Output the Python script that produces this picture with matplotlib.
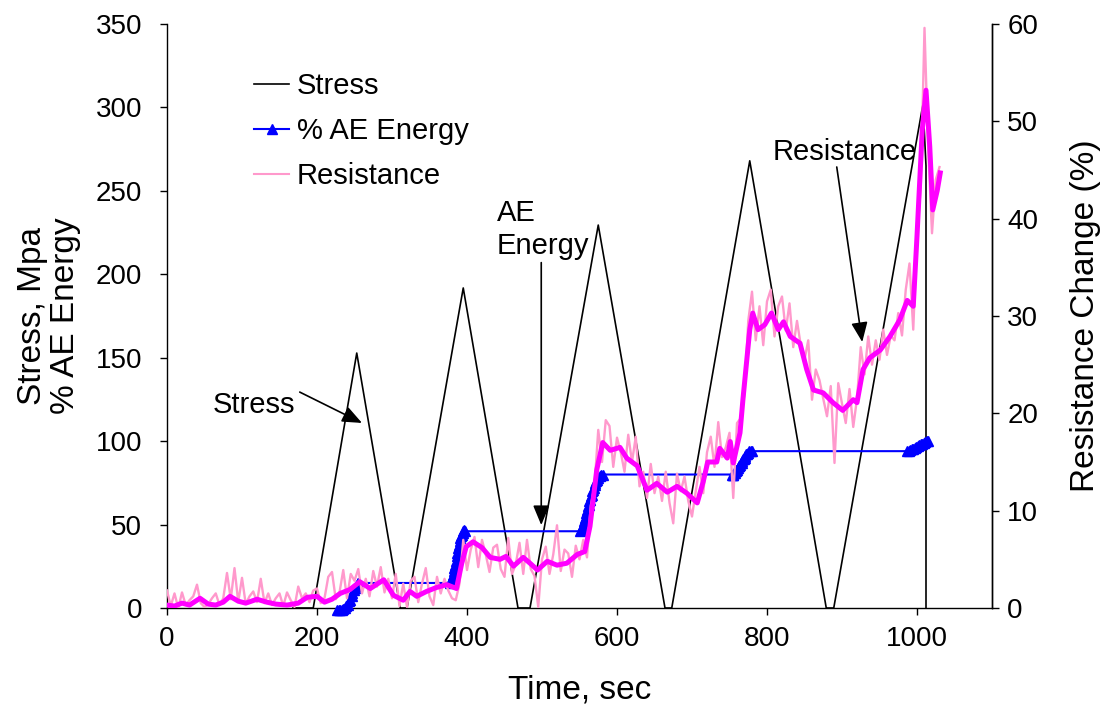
import numpy as np
import matplotlib
matplotlib.use("Agg")
import matplotlib.pyplot as plt
from matplotlib.lines import Line2D

plt.rcParams['font.family'] = ['Liberation Sans', 'DejaVu Sans']

# ---------------- data ----------------
stress_time = [168, 195, 253, 311, 320, 395, 468, 484, 575, 664, 673, 777, 879, 889, 1008, 1012, 1012]
stress_value = [0, 0, 152.8, 0, 0, 191.8, 0, 0, 229.5, 0, 0, 268, 0, 0, 302, 265, 0]

ae_time = [227, 229, 231, 233, 235, 237, 239, 241, 243, 244, 246, 247, 249, 250, 252, 253, 254, 255,
           377, 378, 379, 380, 381, 382, 383, 384, 385, 386, 387, 388, 389, 390, 391, 392, 393, 394,
           395, 396, 397,
           551, 552, 553, 554, 555, 556, 557, 558, 559, 560, 561, 562, 563, 564, 565, 566, 567, 568,
           569, 570, 571, 572, 573, 575, 577, 579, 581,
           753, 754, 755, 756, 757, 758, 759, 760, 761, 762, 763, 764, 765, 766, 767, 768, 769, 770,
           771, 772, 773, 774, 776, 778, 780,
           987, 989, 991, 993, 995, 997, 999, 1001, 1003, 1005, 1007, 1009, 1011, 1013, 1014]
ae_value = [-1, -1, -1, -1, -0.5, 0, 1, 2, 4, 5, 7, 9, 11, 12, 13, 14, 15, 15,
            15, 16, 17, 18, 20, 22, 24, 26, 28, 31, 33, 36, 38, 40, 42, 43, 44, 45,
            46, 47, 46,
            46, 47, 48, 49, 50, 52, 54, 55, 57, 59, 61, 62, 64, 65, 67, 68, 70, 71,
            72, 74, 75, 76, 77, 78, 79, 80, 80,
            80, 80, 80, 81, 81, 82, 83, 83, 84, 85, 85, 86, 87, 87, 88, 89, 89, 90,
            91, 92, 92, 93, 94, 94, 94,
            94, 94, 94.5, 95, 95.5, 96, 96.5, 97, 97.5, 98, 98.5, 99, 99.5, 100, 100]

# raw resistance change (%), sampled every 5 s from 0 to 1030 s
raw_start, raw_step = 0, 5
resistance_raw = [
    1.8, 0.2, 1.5, 0.0, 1.6, 0.3, 0.8, 1.2, 2.4, 0.5,
    0.1, 0.4, 1.0, 1.5, 0.3, 1.0, 3.6, 0.9, 4.1, 0.6,
    3.1, 0.4, 1.2, 1.7, 0.6, 3.0, 0.5, 1.5, 0.3, 1.0,
    1.5, 0.2, 1.6, 0.8, 0.1, 2.2, 1.0, 1.5, 0.6, 1.8,
    2.0, 0.5, 1.0, 3.2, 3.7, 0.9, 1.6, 3.9, 1.0, 3.5,
    2.8, 4.0, 1.5, 3.0, 1.2, 3.8, 2.2, 4.2, 1.6, 3.0,
    1.0, 3.5, 0.2, 2.5, 0.1, 2.8, 3.2, 0.6, 2.5, 4.1,
    1.2, 0.3, 3.2, 1.5, 3.0, 1.8, 1.0, 0.8, 2.5, 7.0,
    3.9, 6.0, 7.3, 4.2, 7.0, 5.5, 3.7, 6.2, 6.5, 4.0,
    3.2, 7.2, 3.5, 4.5, 6.7, 3.5, 7.0, 4.0, 3.3, 0.1,
    5.0, 6.3, 3.5, 5.5, 8.5, 3.8, 6.0, 5.6, 3.2, 6.4,
    5.0, 7.0, 5.2, 10.5, 12.5, 18.3, 15.0, 19.3, 18.7, 14.5,
    17.5, 16.0, 14.0, 17.8, 15.0, 17.6, 12.5, 14.0, 11.3, 14.8,
    11.8, 13.5, 11.0, 14.0, 10.8, 8.7, 13.8, 12.0, 13.5, 11.0,
    9.4, 12.0, 14.5, 11.8, 16.0, 17.6, 14.5, 19.1, 15.5, 16.5,
    18.0, 11.3, 19.0, 19.5, 22.0, 29.5, 32.5, 27.5, 31.0, 27.0,
    31.5, 32.7, 27.9, 31.0, 32.0, 28.5, 31.3, 26.8, 29.5, 27.0,
    25.5, 27.5, 21.4, 24.5, 23.4, 21.5, 19.7, 22.8, 14.9, 23.1,
    21.0, 19.0, 22.5, 18.6, 21.5, 26.8, 24.0, 27.9, 25.0, 27.5,
    25.5, 28.6, 26.0, 28.0, 27.5, 30.3, 28.0, 32.7, 35.4, 28.6,
    38.1, 43.3, 59.6, 47.0, 38.5, 44.0, 45.3,
]

# smoothed resistance trend (thick magenta)
trend_time = [0, 10, 20, 30, 44, 55, 65, 75, 84, 95, 105, 120, 133, 145, 160, 175, 187, 200,
              210, 220, 231, 244, 257, 271, 289, 302, 315, 324, 333, 346, 359, 373, 386, 393,
              399, 408, 420, 431, 444, 452, 462, 475, 484, 494, 507, 520, 533, 547, 557, 564,
              573, 581, 591, 604, 613, 627, 640, 653, 667, 680, 693, 707, 715, 721, 733, 737,
              747, 751, 755, 764, 768, 777, 781, 788, 797, 806, 815, 822, 831, 844, 853, 862,
              875, 888, 901, 915, 920, 928, 937, 951, 964, 977, 987, 995, 1000, 1007, 1012,
              1017, 1021, 1027, 1031]
trend_value = [0.3, 0.2, 0.5, 0.3, 1.0, 0.4, 0.3, 0.6, 1.2, 0.7, 0.5, 0.9, 0.6, 0.4, 0.3, 0.5, 1.1, 1.2,
               0.6, 0.9, 1.5, 1.9, 2.7, 2.0, 2.9, 1.3, 0.8, 1.7, 1.2, 1.7, 2.1, 2.4, 2.0, 4.6,
               6.3, 6.8, 6.2, 5.2, 5.0, 5.3, 4.3, 5.2, 4.6, 3.9, 4.8, 4.4, 4.6, 5.5, 5.8, 8.4,
               14.2, 17.0, 16.2, 16.5, 15.4, 14.6, 12.1, 12.8, 11.9, 12.5, 11.8, 10.8, 13.0, 15.0, 15.0, 16.4,
               15.4, 17.1, 14.9, 18.0, 21.5, 28.6, 30.3, 28.6, 29.1, 30.3, 28.6, 29.4, 27.9, 27.2, 24.5, 22.4,
               22.1, 21.1, 20.3, 21.4, 21.1, 24.5, 25.7, 26.5, 27.9, 29.6, 31.6, 31.0, 38.2, 49.1, 53.2,
               47.4, 40.9, 42.9, 44.7]

x_ticks = [0, 200, 400, 600, 800, 1000]
left_ticks = [0, 50, 100, 150, 200, 250, 300, 350]
right_ticks = [0, 10, 20, 30, 40, 50, 60]

# ---------------- figure ----------------
fig = plt.figure(figsize=(11.07, 7.14), dpi=100)
ax = fig.add_axes([167 / 1107, 106 / 714, 825 / 1107, 584 / 714])
ax2 = ax.twinx()

ax.plot(stress_time, stress_value, color='black', lw=1.2, zorder=2)
ax.plot(ae_time, ae_value, color='#0000FF', lw=1.5, marker='^', markersize=7,
        markeredgecolor='#0000FF', markerfacecolor='#0000FF', zorder=3, clip_on=False)

raw_time = np.arange(len(resistance_raw)) * raw_step + raw_start
ax2.plot(raw_time, resistance_raw, color='#FF99CC', lw=1.7, zorder=2)
ax2.plot(trend_time, trend_value, color='#FF00FF', lw=3.6, zorder=3)

ax.set_xlim(0, 1100)
ax.set_ylim(0, 350)
ax2.set_ylim(0, 60)
ax.set_xticks(x_ticks)
ax.set_yticks(left_ticks)
ax2.set_yticks(right_ticks)

for a in (ax, ax2):
    a.spines['top'].set_visible(False)
    for s in a.spines.values():
        s.set_linewidth(1.0)
    a.tick_params(direction='out', length=5, width=1.0, labelsize=20, pad=6)
ax.tick_params(axis='x', pad=8)
ax.tick_params(axis='y', pad=13)
ax2.spines['left'].set_visible(False)
ax2.spines['bottom'].set_visible(False)

ax.set_xlabel('Time, sec', fontsize=24, va='center')
ax.xaxis.set_label_coords(0.5, -0.14)
ax.set_ylabel('Stress, Mpa\n% AE Energy', fontsize=24, linespacing=1.08, va='center', ha='center')
ax.yaxis.set_label_coords(-0.143, 0.5)
ax2.set_ylabel('Resistance Change (%)', fontsize=24, va='center', ha='center')
ax2.yaxis.set_label_coords(1.113, 0.5)

# annotations
arrow_kw = dict(arrowstyle='-|>,head_length=0.6,head_width=0.25', color='black', lw=1.2,
                mutation_scale=20, shrinkA=0, shrinkB=0)
ax.text(61, 121.7, 'Stress', fontsize=21, ha='left', va='center')
ax.annotate('', xy=(260, 110.9), xytext=(177, 129.4), arrowprops=arrow_kw)
ax.text(440, 227, 'AE\nEnergy', fontsize=21, ha='left', va='center', linespacing=1.22)
ax.annotate('', xy=(499, 49.7), xytext=(499, 207), arrowprops=arrow_kw)
ax.text(807, 273.3, 'Resistance', fontsize=21, ha='left', va='center')
ax.annotate('', xy=(927, 159.4), xytext=(893, 264.3), arrowprops=arrow_kw)

handles = [Line2D([], [], color='black', lw=1.2),
           Line2D([], [], color='#0000FF', lw=1.5, marker='^', markersize=7),
           Line2D([], [], color='#FF99CC', lw=1.5)]
labels = ['Stress', '% AE Energy', 'Resistance']
ax2.legend(handles, labels, loc='upper left', bbox_to_anchor=((254 - 167) / 825, (608 - 72) / 584),
           frameon=False, fontsize=21, handlelength=1.2, handletextpad=0.27,
           labelspacing=0.58, borderpad=0, borderaxespad=0, numpoints=1)

fig.savefig('out.png', dpi=100)
